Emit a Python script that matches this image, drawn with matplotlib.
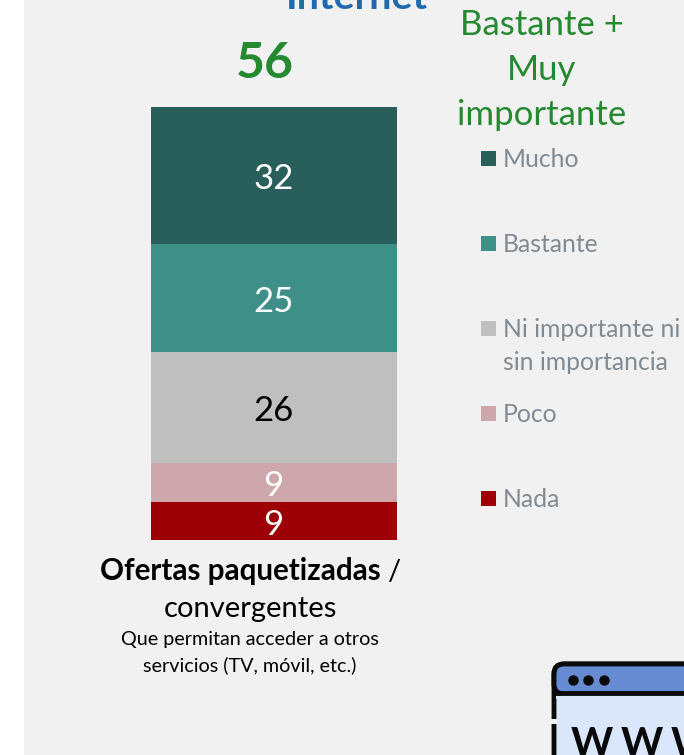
import matplotlib
matplotlib.use("Agg")
import matplotlib.pyplot as plt
from matplotlib.patches import Rectangle, FancyBboxPatch

plt.rcParams['font.family'] = ['Lato', 'DejaVu Sans']

W, H = 684, 755
categories = ["Mucho", "Bastante", "Ni importante ni\nsin importancia", "Poco", "Nada"]
values = [32, 25, 26, 9, 9]
colors = ["#285F5A", "#3D8F88", "#BFBFBF", "#CDA7AB", "#9C0006"]
label_colors = ["white", "white", "black", "white", "white"]
legend_y = [158, 243, 328, 413, 498]
total_label = "56"
side_label = "Bastante +\nMuy\nimportante"

fig = plt.figure(figsize=(W / 100, H / 100), dpi=100, facecolor="white")

# Pixel overlay with the origin at the top left
bg = fig.add_axes([0, 0, 1, 1])
bg.set_xlim(0, W)
bg.set_ylim(H, 0)
bg.axis("off")
bg.add_patch(Rectangle((24, 0), W - 24, H, fc="#F1F1F1", ec="none"))

# Stacked bar
ax = fig.add_axes([151 / W, 1 - 540.4 / H, 246 / W, 433.4 / H])
ax.set_xlim(-0.5, 0.5)
ax.set_ylim(sum(values), 0)
ax.axis("off")
bottom = 0
for v, c, lc in zip(values, colors, label_colors):
    ax.bar(0, v, width=1, bottom=bottom, color=c, linewidth=0)
    ax.annotate(str(v), (0, bottom + v / 2), xytext=(-0.3, -0.6), textcoords="offset points",
                color=lc, fontsize=25, ha="center", va="center_baseline")
    bottom += v

# Titles
bg.text(357, 9, "Internet", color="#1F6AAE", fontsize=28.4, fontweight="bold", ha="center", va="baseline")
bg.text(265, 78, total_label, color="#25892F", fontsize=36, fontweight="bold", ha="center", va="baseline")
for line, y in zip(side_label.split("\n"), [35, 80, 125]):
    bg.text(542, y, line, color="#25892F", fontsize=25, ha="center", va="baseline")

# Legend
for name, c, y in zip(categories, colors, legend_y):
    bg.add_patch(Rectangle((481, y - 7), 15, 15, fc=c, ec="none"))
    for i, line in enumerate(name.split("\n")):
        bg.text(503, y + 9 + i * 33, line, color="#808A93", fontsize=17.8, ha="left", va="baseline")

# Caption
bg.text(240, 580, "Ofertas paquetizadas", color="black", fontsize=21.3, fontweight="bold", ha="center", va="baseline")
bg.text(394, 580, "/", color="black", fontsize=21, ha="center", va="baseline")
bg.text(250, 617, "convergentes", color="black", fontsize=21, ha="center", va="baseline")
bg.text(250, 645, "Que permitan acceder a otros", color="black", fontsize=14.2, ha="center", va="baseline")
bg.text(250, 671, "servicios (TV, móvil, etc.)", color="black", fontsize=14.2, ha="center", va="baseline")

# Browser icon, cut by the figure edge
bg.add_patch(FancyBboxPatch((554, 664), 200, 130, boxstyle="round,pad=0,rounding_size=10",
                            fc="#DAE7FA", ec="#0A0A0A", lw=3.5))
bg.add_patch(FancyBboxPatch((554, 664), 200, 30, boxstyle="round,pad=0,rounding_size=10",
                            fc="#668BD3", ec="#0A0A0A", lw=3.5))
bg.add_patch(Rectangle((556, 694), 140, 5, fc="#DAE7FA", ec="none", zorder=1.5))
bg.plot([552, 700], [693, 693], color="#0A0A0A", lw=3.5, solid_capstyle="butt")
bg.plot([573, 588, 604], [680, 680, 680], ls="none", marker="o", ms=6.5, color="#0A0A0A")
bg.add_patch(Rectangle((550, 719), 7, 5, fc="#F1F1F1", ec="none", zorder=3))
for x in [592, 642, 692]:
    bg.text(x, 756, "W", color="#0A0A0A", fontsize=29, fontweight="bold", ha="center", va="baseline")

fig.savefig("out.png", dpi=100, facecolor=fig.get_facecolor())
